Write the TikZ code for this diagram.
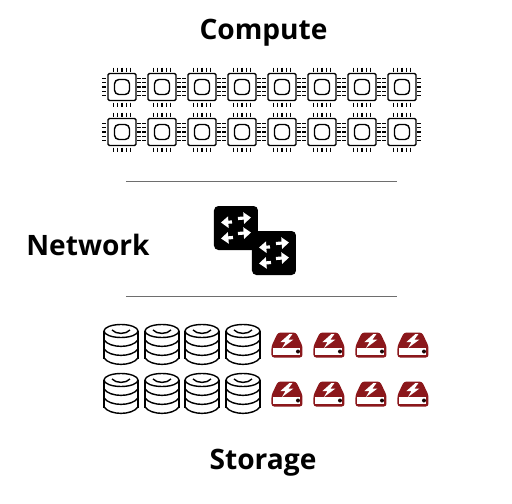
\documentclass[tikz,border=0pt]{standalone}
\usepackage{fontspec}
\setmainfont{Open Sans}
\usepackage{xcolor}
\usetikzlibrary{arrows.meta, positioning}
\definecolor{drivered}{RGB}{139, 23, 27}
\definecolor{rulegray}{RGB}{110, 110, 110}

\begin{document}
\begin{tikzpicture}[
      x=0.02cm, y=-0.02cm,
      title/.style={font=\fontsize{16}{20}\selectfont\bfseries, text=black, inner sep=0pt, anchor=base},
      sepline/.style={draw=rulegray, line width=0.4pt},
      icon/.style={draw=black, line width=0.8pt, line join=round},
      swarrow/.style={draw=white, line width=1.8pt, -{Triangle[length=4.2pt, width=6.4pt]}},
      chip/.pic={
        \draw[icon, rounded corners=0.8pt] (-14,-13.5) rectangle (14,13.5);
        \draw[icon, rounded corners=2.5pt] (-7.5,-7.5) rectangle (7.5,7.5);
        \foreach \p in {-8.6,-4.3,0,4.3,8.6} {
          \draw[icon] (\p,-19.5) -- (\p,-15.5);
          \draw[icon] (\p,15.5) -- (\p,19.5);
          \draw[icon] (-19.5,\p) -- (-15.5,\p);
          \draw[icon] (15.5,\p) -- (19.5,\p);
        }
      },
      switchbox/.pic={
        \fill[black, rounded corners=2.5pt] (-22,-22) rectangle (22,22);
        \draw[swarrow] (2,-9.5) -- (15,-10.5);
        \draw[swarrow] (-4,-6) -- (-15,-5.5);
        \draw[swarrow] (2,5.5) -- (15,4.5);
        \draw[swarrow] (-3,9.5) -- (-15,10.5);
      },
      disk/.pic={
        \draw[icon] (0,-14) ellipse (17 and 6.5);
        \draw[icon] (-9,-15) .. controls (-5,-10.5) and (5,-10.5) .. (9,-15);
        \draw[icon] (-17,-14) -- (-17,14);
        \draw[icon] (17,-14) -- (17,14);
        \foreach \b in {-5,4,13} {
          \draw[icon] (-17,\b) .. controls (-11,\b+8.5) and (11,\b+8.5) .. (17,\b);
        }
      },
      drive/.pic={
        \fill[drivered, rounded corners=1.5pt] (-9,-12.5) -- (9,-12.5) -- (15.5,1) -- (15.5,12.5) -- (-15.5,12.5) -- (-15.5,1) -- cycle;
        \fill[white] (-13.5,3) rectangle (13.5,10);
        \fill[black!80!drivered] (11,6.5) circle (2);
        \fill[white] (2.5,-11) -- (-6.5,-3) -- (-1.5,-3) -- (-5,3) -- (6.5,-5.5) -- (1.5,-5.5) -- (5.5,-11) -- cycle;
      }
    ]
      \useasboundingbox (0,0) rectangle (512,504);

      \node[title] (compute) at (263.5,39) {Compute};
      \node[title] (network) at (88,255) {Network};
      \node[title] (storage) at (263,469) {Storage};

      \coordinate (rule1l) at (126,181);
      \coordinate (rule1r) at (397,181);
      \coordinate (rule2l) at (126,296);
      \coordinate (rule2r) at (397,296);
      \draw[sepline] (rule1l) -- (rule1r);
      \draw[sepline] (rule2l) -- (rule2r);

      % compute
      \foreach \x in {122,162,202,242,282,322,362,402} {
        \foreach \y in {87,132} {
          \pic at (\x,\y) {chip};
        }
      }

      % network
      \pic at (236,228) {switchbox};
      \pic at (274,253) {switchbox};

      % storage
      \foreach \x in {121,162,202,243} {
        \foreach \y in {345,394} {
          \pic at (\x,\y) {disk};
        }
      }
      \foreach \x in {287,329,371,413} {
        \foreach \y in {345,394} {
          \pic at (\x,\y) {drive};
        }
      }
    \end{tikzpicture}
\end{document}
